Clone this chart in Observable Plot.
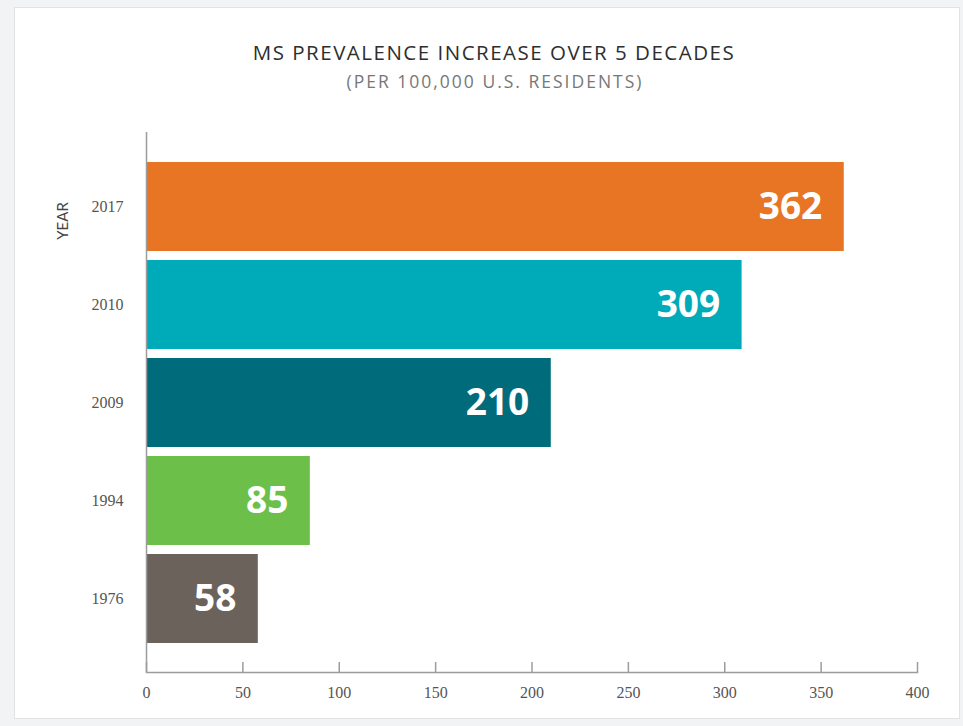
<!DOCTYPE html>
<html>
<head>
<meta charset="utf-8">
<script src="https://cdn.jsdelivr.net/npm/d3@7"></script>
<script src="https://cdn.jsdelivr.net/npm/@observablehq/plot@0.6"></script>
<style>
  html, body { margin: 0; padding: 0; }
  body { width: 963px; height: 726px; background: #f2f3f5; position: relative; overflow: hidden; font-family: Lato, "Open Sans", sans-serif; }
  #card { position: absolute; left: 14px; top: 7px; width: 944px; height: 710px; background: #fff; border: 1px solid #e3e3e3; }
  #title { position: absolute; left: 0; top: 38px; width: 988px; text-align: center; font-family: "Open Sans", sans-serif; font-size: 20.5px; color: #2e2e2e; letter-spacing: 1.5px; }
  #subtitle { position: absolute; left: 0; top: 69px; width: 990px; text-align: center; font-family: "Open Sans", sans-serif; font-size: 17.5px; color: #777; letter-spacing: 2px; }
  #ylabel { position: absolute; left: 38px; top: 212px; width: 48px; text-align: center; transform: rotate(-90deg); transform-origin: center; font-size: 15px; color: #444; }
  #chart { position: absolute; left: 0; top: 119px; }
</style>
</head>
<body>
<div id="card"></div>
<div id="title">MS PREVALENCE INCREASE OVER 5 DECADES</div>
<div id="subtitle">(PER 100,000 U.S. RESIDENTS)</div>
<div id="ylabel">YEAR</div>
<div id="chart"></div>
<script>
// MS prevalence per 100,000 U.S. residents, by study year
const years = ["2017", "2010", "2009", "1994", "1976"];
const prevalence = [362, 309, 210, 85, 58];
const barColors = ["#e87524", "#00abb9", "#006b7b", "#6cc04a", "#6b625c"];
const xTicks = [0, 50, 100, 150, 200, 250, 300, 350, 400];

const data = years.map((year, i) => ({year, value: prevalence[i]}));

const chart = Plot.plot({
  width: 963,
  height: 600,
  marginLeft: 146,
  marginRight: 46,
  marginTop: 13,
  marginBottom: 47,
  style: {background: "transparent", fontFamily: "'Liberation Serif', serif"},
  x: {domain: [0, 400], ticks: xTicks},
  y: {domain: years, paddingInner: 0.092, paddingOuter: 0.3},
  color: {domain: years, range: barColors},
  marks: [
    Plot.barX(data, {x: "value", y: "year", fill: "year"}),
    Plot.text(data, {
      x: "value", y: "year", text: d => String(d.value),
      textAnchor: "end", dx: -22, fill: "white",
      fontSize: 37, fontWeight: "bold", fontFamily: "'Open Sans', sans-serif"
    }),
    Plot.ruleX([0], {stroke: "#9c9c9c", strokeWidth: 1.5}),
    Plot.frame({anchor: "bottom", stroke: "#9c9c9c", strokeWidth: 1.5}),
    Plot.ruleX(xTicks, {x: d => d, stroke: "#9c9c9c", strokeWidth: 1.5, insetTop: 530}),
    Plot.axisX({ticks: xTicks, tickSize: 0, tickPadding: 14, fontSize: 16, fill: "#555", label: null}),
    Plot.axisY({tickSize: 0, tickPadding: 23, fontSize: 16, fill: "#555", label: null})
  ]
});

document.getElementById("chart").appendChild(chart);
</script>
</body>
</html>
